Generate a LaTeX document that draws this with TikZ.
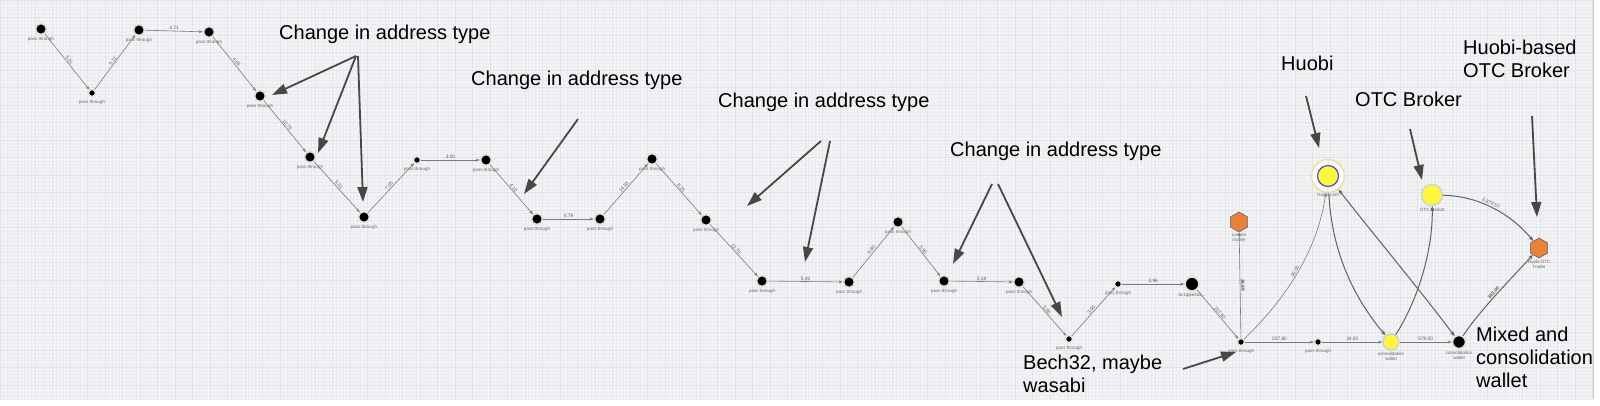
\documentclass[tikz,border=0pt]{standalone}
\usepackage{fontspec}
\setmainfont{Liberation Sans}
\usetikzlibrary{arrows.meta,shapes.geometric}
\definecolor{bg}{HTML}{F3F4F6}
\definecolor{gminor}{HTML}{EAECEF}
\definecolor{gmajor}{HTML}{E1E4E7}
\definecolor{edgegray}{HTML}{7A7A7A}
\definecolor{annot}{HTML}{474747}
\definecolor{nodeyellow}{HTML}{FFF53A}
\definecolor{hexorange}{HTML}{E8823A}
\definecolor{huobiblue}{HTML}{3A56C8}
\definecolor{halo}{HTML}{EDE2A6}
\begin{document}
\begin{tikzpicture}[x=1pt,y=-1pt,
  pnode/.style={circle,fill=black,draw=black!12,line width=1.6pt,inner sep=0pt,minimum size=11pt},
  snode/.style={circle,fill=black,draw=black!12,line width=1.4pt,inner sep=0pt,minimum size=7pt},
  lbl/.style={font=\fontsize{4.5}{5}\selectfont,text=black!60,align=center,inner sep=0.5pt},
  elbl/.style={font=\fontsize{4.8}{5}\selectfont,text=black!65,sloped,above,inner sep=0.8pt},
  link/.style={draw=edgegray,line width=0.6pt,-{Stealth[length=4pt,width=3pt]}},
  hlink/.style={draw=black!62,line width=1pt,-{Stealth[length=5pt,width=4pt]}},
  note/.style={font=\fontsize{20}{23}\selectfont,text=black,align=left,inner sep=0pt,anchor=west},
  pointer/.style={draw=annot,line width=1.8pt,-{Triangle[length=15pt,width=10pt]}},
  hexa/.style={regular polygon,regular polygon sides=6,shape border rotate=30,fill=hexorange,draw=black!60,line width=0.6pt,inner sep=0pt,minimum size=20pt},
  ynode/.style={circle,fill=nodeyellow,draw=black!18,line width=1.4pt,inner sep=0pt},
]
\useasboundingbox (0,0) rectangle (1600,405);
\fill[white] (0,0) rectangle (1600,405);
\fill[bg] (0,0) rectangle (1593,399);
\begin{scope}[y=1pt]
  \draw[gminor,line width=0.3pt] (0,-399) grid[step=3.5pt] (1593,0);
  \draw[gmajor,line width=0.5pt] (0,-399) grid[step=17.5pt] (1593,0);
\end{scope}
\draw[black!20,line width=1pt] (1593,0) -- (1593,399);

% pass-through chain
\node[pnode,label={[lbl,label distance=1pt]below:pass through}] (n1) at (41,29) {};
\node[snode,label={[lbl,label distance=2pt]below:pass through}] (n2) at (92,93) {};
\node[pnode,label={[lbl,label distance=1pt]below:pass through}] (n3) at (139,30) {};
\node[pnode,label={[lbl,label distance=1pt]below:pass through}] (n4) at (209,32) {};
\node[pnode,label={[lbl,label distance=1pt]below:pass through}] (n5) at (260,96) {};
\node[pnode,label={[lbl,label distance=1pt]below:pass through}] (n6) at (310,157) {};
\node[pnode,label={[lbl,label distance=1pt]below:pass through}] (n7) at (364,217) {};
\node[snode,label={[lbl,label distance=2pt]below:pass through}] (n8) at (417,160) {};
\node[pnode,label={[lbl,label distance=1pt]below:pass through}] (n9) at (486,160) {};
\node[pnode,label={[lbl,label distance=1pt]below:pass through}] (n10) at (537,219) {};
\node[pnode,label={[lbl,label distance=1pt]below:pass through}] (n11) at (600,219) {};
\node[pnode,label={[lbl,label distance=1pt]below:pass through}] (n12) at (652,159) {};
\node[pnode,label={[lbl,label distance=1pt]below:pass through}] (n13) at (706,220) {};
\node[pnode,label={[lbl,label distance=1pt]below:pass through}] (n14) at (762,281) {};
\node[pnode,label={[lbl,label distance=1pt]below:pass through}] (n15) at (849,282) {};
\node[pnode,label={[lbl,label distance=1pt]below:pass through}] (n16) at (898,222) {};
\node[pnode,label={[lbl,label distance=1pt]below:pass through}] (n17) at (944,281) {};
\node[pnode,label={[lbl,label distance=1pt]below:pass through}] (n18) at (1019,282) {};
\node[snode,label={[lbl,label distance=2pt]below:pass through}] (n19) at (1069,339) {};
\node[snode,label={[lbl,label distance=2pt]below:pass through}] (n20) at (1118,284) {};
\node[pnode,minimum size=14pt,label={[lbl,label distance=1pt]below:bc1qlpe4u5...}] (n21) at (1192,284) {};
\node[snode,label={[lbl,label distance=2pt]below:pass through}] (n22) at (1241,342) {};
\node[snode,label={[lbl,label distance=2pt]below:pass through}] (n23) at (1318,342) {};
\node[hexa,label={[lbl,label distance=1pt]below:custom\\cluster}] (cluster) at (1239,222) {};

% exchange side
\node[circle,minimum size=33pt,draw=halo,line width=1.6pt,fill=white!45!bg,inner sep=0pt,
  label={[lbl,label distance=-1pt]below:Huobi.com}] (huobi) at (1328,176) {};
\node[circle,minimum size=21pt,fill=nodeyellow,draw=huobiblue,line width=1.2pt,inner sep=0pt] (huobicore) at (huobi.center) {};
\node[ynode,minimum size=21pt,label={[lbl,label distance=1pt]below:OTC Market}] (otc) at (1432,195) {};
\node[ynode,minimum size=16pt,label={[lbl,label distance=1pt]below:consolidation\\wallet}] (yc) at (1391,342) {};
\node[pnode,minimum size=13pt,label={[lbl,label distance=1pt]below:consolidation\\wallet}] (bc) at (1459,342) {};
\node[hexa,label={[lbl,label distance=1pt]below:Huobi OTC\\Trader}] (hotc) at (1539,248) {};

% chain edges
\draw[link] (n1) -- node[elbl]{5.11} (n2);
\draw[link] (n2) -- node[elbl]{5.11} (n3);
\draw[link] (n3) -- node[elbl]{4.71} (n4);
\draw[link] (n4) -- node[elbl]{4.65} (n5);
\draw[link] (n5) -- node[elbl]{10.75} (n6);
\draw[link] (n6) -- node[elbl]{5.01} (n7);
\draw[link] (n7) -- node[elbl]{7.05} (n8);
\draw[link] (n8) -- node[elbl]{3.00} (n9);
\draw[link] (n9) -- node[elbl]{4.10} (n10);
\draw[link] (n10) -- node[elbl]{4.79} (n11);
\draw[link] (n11) -- node[elbl]{14.55} (n12);
\draw[link] (n12) -- node[elbl]{8.25} (n13);
\draw[link] (n13) -- node[elbl]{12.70} (n14);
\draw[link] (n14) -- node[elbl]{5.40} (n15);
\draw[link] (n15) -- node[elbl]{6.90} (n16);
\draw[link] (n16) -- node[elbl]{5.95} (n17);
\draw[link] (n17) -- node[elbl]{5.18} (n18);
\draw[link] (n18) -- node[elbl]{3.96} (n19);
\draw[link] (n19) -- node[elbl]{3.95} (n20);
\draw[link] (n20) -- node[elbl]{3.96} (n21);
\draw[link] (n21) -- node[elbl]{237.90} (n22);
\draw[link] (n22) -- node[elbl]{237.80} (n23);
\draw[link] (n22) -- node[elbl,font=\fontsize{4.8}{5}\selectfont\bfseries]{39.99} (cluster);
\draw[link] (n23) -- node[elbl]{34.00} (yc);
\draw[link] (yc) -- node[elbl]{579.00} (bc);
\draw[link] (n22) .. controls (1285,300) and (1318,250) .. node[elbl,pos=0.5]{30.00} (huobi);
\draw[hlink] (huobi) .. controls (1332,260) and (1360,305) .. (yc);
\draw[hlink,{Stealth[length=5pt,width=4pt]}-{Stealth[length=5pt,width=4pt]}] (huobi) .. controls (1370,230) and (1420,290) .. (bc);
\draw[hlink] (yc) .. controls (1418,300) and (1433,250) .. (otc);
\draw[hlink] (otc) .. controls (1480,196) and (1512,215) .. node[elbl,pos=0.45]{2,879.57} (hotc);
\draw[hlink] (bc) .. controls (1480,310) and (1510,280) .. node[elbl,font=\fontsize{4.8}{5}\selectfont\bfseries]{383.00} (hotc);

% annotations
\node[note] (t1) at (279,34) {Change in address type};
\node[note] (t2) at (471,80) {Change in address type};
\node[note] (t3) at (718,102) {Change in address type};
\node[note] (t4) at (950,151) {Change in address type};
\node[note] (t5) at (1281,63) {Huobi};
\node[note] (t6) at (1355,99) {OTC Broker};
\node[note] (t7) at (1463,59) {Huobi-based\\OTC Broker};
\node[note] (t8) at (1476,357) {Mixed and\\consolidation\\wallet};
\node[note] (t9) at (1023,374) {Bech32, maybe\\wasabi};

\coordinate (a1) at (356,56);
\coordinate (a1t) at (272,95);
\coordinate (a2t) at (318,153);
\coordinate (a3) at (358,56);
\coordinate (a3t) at (363,202);
\coordinate (b1) at (578,119);
\coordinate (b1t) at (524,194);
\coordinate (c1) at (821,141);
\coordinate (c1t) at (747,206);
\coordinate (c2) at (830,141);
\coordinate (c2t) at (805,262);
\coordinate (d1) at (992,184);
\coordinate (d1t) at (953,264);
\coordinate (d2) at (998,184);
\coordinate (d2t) at (1062,317);
\coordinate (e1) at (1183,369);
\coordinate (e1t) at (1236,352);
\coordinate (f1) at (1306,96);
\coordinate (f1t) at (1319,148);
\coordinate (g1) at (1410,129);
\coordinate (g1t) at (1422,180);
\coordinate (h1) at (1532,116);
\coordinate (h1t) at (1537,217);

\draw[pointer] (a1) -- (a1t);
\draw[pointer] (a1) -- (a2t);
\draw[pointer] (a3) -- (a3t);
\draw[pointer] (b1) -- (b1t);
\draw[pointer] (c1) -- (c1t);
\draw[pointer] (c2) -- (c2t);
\draw[pointer] (d1) -- (d1t);
\draw[pointer] (d2) -- (d2t);
\draw[pointer] (e1) -- (e1t);
\draw[pointer] (f1) -- (f1t);
\draw[pointer] (g1) -- (g1t);
\draw[pointer] (h1) -- (h1t);
\end{tikzpicture}
\end{document}
